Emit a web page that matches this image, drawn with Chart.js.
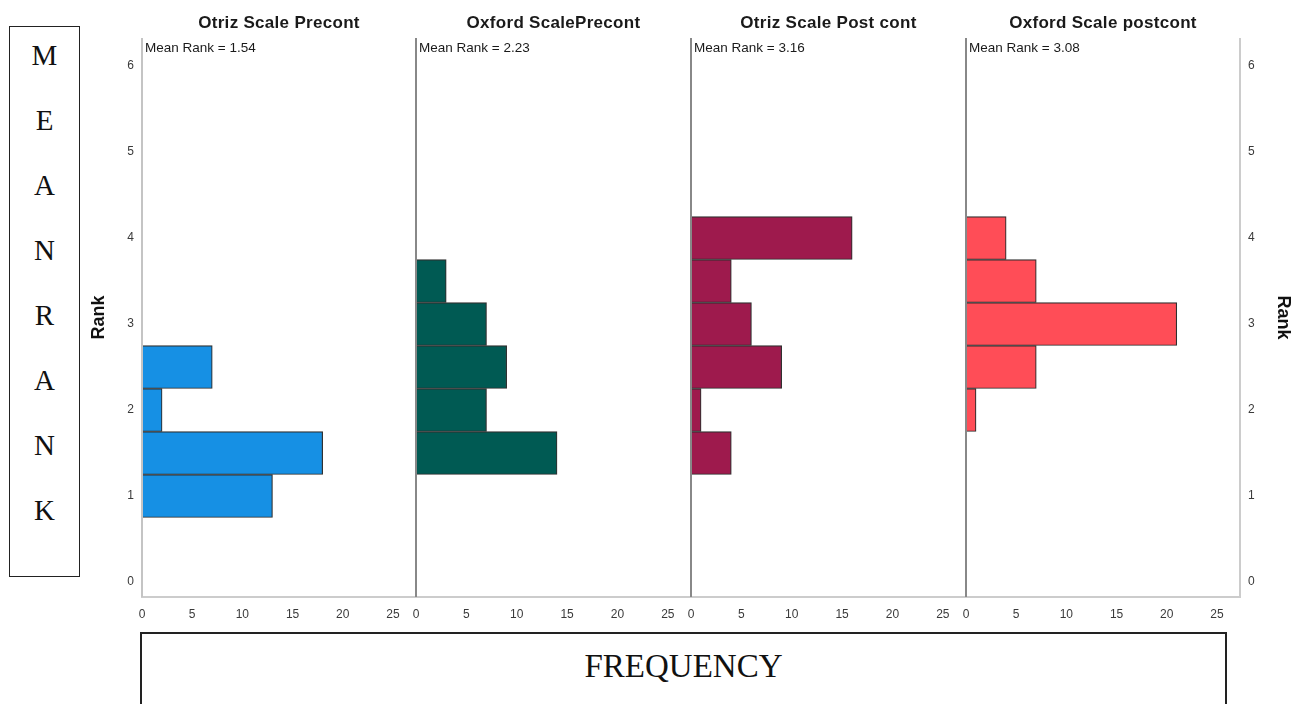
<!DOCTYPE html>
<html>
<head>
<meta charset="utf-8">
<script src="https://cdn.jsdelivr.net/npm/chart.js@4.4.1/dist/chart.umd.min.js"></script>
<style>
  body { margin: 0; background: #fff; width: 1299px; height: 704px; overflow: hidden; position: relative; font-family: Arial, "Liberation Sans", sans-serif; }
  .panel { position: absolute; top: 0; }
  #meanBox { position: absolute; left: 9px; top: 26px; width: 69px; height: 549px; border: 1.5px solid #222; }
  #meanBox div { position: absolute; left: 0; width: 100%; text-align: center; font-family: "Liberation Serif", "Times New Roman", serif; font-size: 29px; color: #111; }
  #freqBox { position: absolute; left: 140px; top: 632px; width: 1083px; height: 90px; border: 2px solid #222; }
  #freqBox span { position: absolute; left: 0; width: 100%; top: 14px; text-align: center; font-family: "Liberation Serif", "Times New Roman", serif; font-size: 33px; color: #111; }
</style>
</head>
<body>
<div id="meanBox"></div>
<div id="freqBox"><span>FREQUENCY</span></div>
<div id="charts"></div>
<script>
// Data
const panelTitles = ["Otriz Scale Precont", "Oxford ScalePrecont", "Otriz Scale Post cont", "Oxford Scale postcont"];
const meanRanks = [1.54, 2.23, 3.16, 3.08];

const otrizPreRanks = [1, 1.5, 2, 2.5];
const otrizPreFreq = [13, 18, 2, 7];
const oxfordPreRanks = [1.5, 2, 2.5, 3, 3.5];
const oxfordPreFreq = [14, 7, 9, 7, 3];
const otrizPostRanks = [1.5, 2, 2.5, 3, 3.5, 4];
const otrizPostFreq = [4, 1, 9, 6, 4, 16];
const oxfordPostRanks = [2, 2.5, 3, 3.5, 4];
const oxfordPostFreq = [1, 7, 21, 7, 4];

const freqTicks = [0, 5, 10, 15, 20, 25];
const rankTicks = [0, 1, 2, 3, 4, 5, 6];
const leftLetters = ["M", "E", "A", "N", "R", "A", "N", "K"];

const panelRanks = [otrizPreRanks, oxfordPreRanks, otrizPostRanks, oxfordPostRanks];
const panelFreqs = [otrizPreFreq, oxfordPreFreq, otrizPostFreq, oxfordPostFreq];
const barColors = ["#1690e4", "#005a53", "#9e1a4d", "#ff4d57"];

// left box letters
const meanBox = document.getElementById("meanBox");
leftLetters.forEach((ch, i) => {
  const d = document.createElement("div");
  d.textContent = ch;
  d.style.top = (12 + i * 65) + "px";
  meanBox.appendChild(d);
});

// layout of the four panels
const panelLefts = [142, 416, 691, 966];
const panelRight = 1240;
const axisW = 58;
const sidePad = 70;
const canvasH = 627;

// draws panel title, mean rank text and frame lines
const panelDecor = {
  id: "panelDecor",
  afterDatasetsDraw(chart, args, opts) {
    const { ctx, chartArea: a } = chart;
    ctx.save();
    ctx.fillStyle = "#1a1a1a";
    ctx.textAlign = "center";
    ctx.textBaseline = "alphabetic";
    ctx.font = "bold 17px Arial, 'Liberation Sans', sans-serif";
    ctx.letterSpacing = "0.3px";
    ctx.fillText(opts.title, (a.left + a.right) / 2, 28);
    ctx.letterSpacing = "0px";
    ctx.textAlign = "left";
    ctx.font = "13.5px Arial, 'Liberation Sans', sans-serif";
    ctx.fillText("Mean Rank = " + opts.mean.toFixed(2), a.left + 3, 52);

    ctx.lineWidth = 2;
    ctx.strokeStyle = "#cccccc";
    ctx.beginPath();
    ctx.moveTo(a.left - 1, a.bottom);
    ctx.lineTo(a.right + 1, a.bottom);
    ctx.stroke();
    if (opts.last) {
      ctx.beginPath();
      ctx.moveTo(a.right, a.top);
      ctx.lineTo(a.right, a.bottom);
      ctx.stroke();
    }
    ctx.strokeStyle = opts.first ? "#c4c4c4" : "#888888";
    ctx.beginPath();
    ctx.moveTo(a.left, a.top);
    ctx.lineTo(a.left, a.bottom);
    ctx.stroke();
    ctx.restore();
  }
};

function makePanel(i) {
  const first = i === 0;
  const last = i === 3;
  const pl = panelLefts[i];
  const pr = last ? panelRight : panelLefts[i + 1];
  const padL = first ? axisW : sidePad;
  const padR = last ? axisW : sidePad;
  const canvasLeft = pl - padL;
  const canvasW = (pr - pl) + padL + padR;

  const wrap = document.createElement("div");
  wrap.className = "panel";
  wrap.style.left = canvasLeft + "px";
  const cv = document.createElement("canvas");
  cv.width = canvasW;
  cv.height = canvasH;
  wrap.appendChild(cv);
  document.getElementById("charts").appendChild(wrap);

  const data = panelRanks[i].map((r, k) => ({ x: panelFreqs[i][k], y: r }));
  const showY = first || last;

  new Chart(cv.getContext("2d"), {
    type: "bar",
    data: {
      datasets: [{
        data,
        backgroundColor: barColors[i],
        borderColor: "rgba(10,10,10,0.85)",
        borderWidth: 1.2,
        borderSkipped: false,
        barPercentage: 1,
        categoryPercentage: 1
      }]
    },
    options: {
      indexAxis: "y",
      responsive: false,
      animation: false,
      layout: { padding: { top: 38, bottom: 0, left: first ? 0 : sidePad, right: last ? 0 : sidePad } },
      plugins: {
        legend: { display: false },
        tooltip: { enabled: false },
        panelDecor: { title: panelTitles[i], mean: meanRanks[i], first, last }
      },
      scales: {
        x: {
          type: "linear",
          min: 0,
          max: 27.3,
          grid: { display: false, drawTicks: false },
          border: { display: false },
          ticks: { autoSkip: false, maxRotation: 0, padding: 10, color: "#3a3a3a", font: { size: 12, family: "Arial, 'Liberation Sans', sans-serif" } },
          afterBuildTicks: (s) => { s.ticks = freqTicks.map(v => ({ value: v })); },
          afterFit: (s) => { s.height = 30; }
        },
        y: {
          type: "linear",
          display: showY,
          offset: false,
          position: last ? "right" : "left",
          min: -0.174,
          max: 6.326,
          grid: { display: false, drawTicks: false, offset: false },
          border: { display: false },
          ticks: { padding: 8, color: "#3a3a3a", font: { size: 12, family: "Arial, 'Liberation Sans', sans-serif" } },
          afterBuildTicks: (s) => { s.ticks = rankTicks.map(v => ({ value: v })); },
          afterFit: (s) => { if (showY) s.width = axisW; },
          title: { display: showY, text: "Rank", color: "#111", font: { size: 18, weight: "bold", family: "Arial, 'Liberation Sans', sans-serif" } }
        }
      }
    },
    plugins: [panelDecor]
  });
}

for (let i = 0; i < 4; i++) makePanel(i);
</script>
</body>
</html>
